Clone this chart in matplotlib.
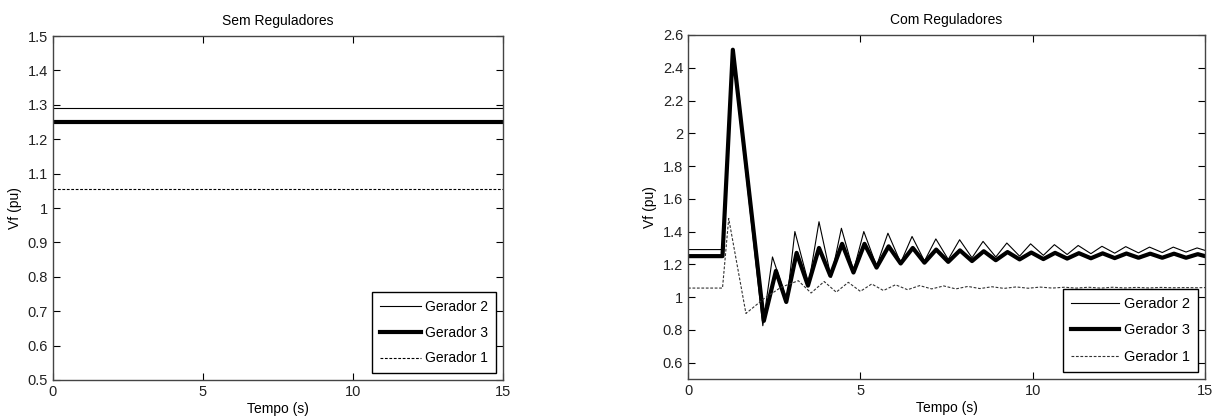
import matplotlib.pyplot as plt
import matplotlib.ticker as mticker

plt.rcParams["font.family"] = ["Liberation Sans", "DejaVu Sans"]
plt.rcParams["font.size"] = 10

# ---- Sem Reguladores (constant field voltages)
t_sem = [0, 15]
g2_sem = [1.29, 1.29]
g3_sem = [1.25, 1.25]
g1_sem = [1.055, 1.055]

# ---- Com Reguladores (peaks and troughs)
t_g3 = [0, 1.0, 1.3, 2.2, 2.55, 2.85, 3.15, 3.48, 3.8, 4.13, 4.47, 4.8, 5.12,
        5.47, 5.82, 6.17, 6.52, 6.86, 7.2, 7.55, 7.89, 8.24, 8.58, 8.93, 9.27,
        9.62, 9.96, 10.31, 10.65, 11.0, 11.34, 11.69, 12.03, 12.38, 12.72,
        13.07, 13.41, 13.76, 14.1, 14.45, 14.79, 15]
g3 = [1.25, 1.25, 2.51, 0.855, 1.16, 0.97, 1.27, 1.07, 1.30, 1.13, 1.325, 1.15,
      1.325, 1.18, 1.31, 1.205, 1.30, 1.21, 1.29, 1.215, 1.285, 1.22, 1.28,
      1.225, 1.275, 1.23, 1.272, 1.232, 1.27, 1.235, 1.268, 1.237, 1.267,
      1.238, 1.266, 1.24, 1.265, 1.24, 1.265, 1.24, 1.262, 1.25]

t_g2 = [0, 1.0, 1.3, 2.17, 2.45, 2.87, 3.1, 3.5, 3.8, 4.15, 4.45, 4.8, 5.1,
        5.47, 5.8, 6.17, 6.5, 6.86, 7.19, 7.55, 7.88, 8.24, 8.56, 8.93, 9.25,
        9.62, 9.94, 10.31, 10.63, 11.0, 11.32, 11.69, 12.01, 12.38, 12.7,
        13.07, 13.39, 13.76, 14.08, 14.45, 14.77, 15]
g2 = [1.29, 1.29, 2.48, 0.825, 1.245, 0.98, 1.40, 1.08, 1.46, 1.12, 1.42, 1.16,
      1.40, 1.19, 1.39, 1.21, 1.37, 1.22, 1.355, 1.23, 1.35, 1.24, 1.34, 1.245,
      1.33, 1.25, 1.325, 1.255, 1.32, 1.26, 1.315, 1.265, 1.31, 1.268, 1.308,
      1.27, 1.305, 1.272, 1.305, 1.275, 1.30, 1.285]

t_g1 = [0, 1.0, 1.18, 1.68, 2.2, 2.7, 3.2, 3.57, 3.95, 4.3, 4.65, 5.0, 5.33,
        5.67, 6.02, 6.37, 6.72, 7.07, 7.42, 7.77, 8.12, 8.47, 8.82, 9.17,
        9.52, 9.87, 10.22, 10.57, 10.92, 11.27, 11.62, 11.97, 12.32, 12.67,
        13.02, 13.37, 13.72, 14.07, 14.42, 14.77, 15]
g1 = [1.055, 1.055, 1.48, 0.90, 0.99, 1.06, 1.10, 1.025, 1.095, 1.03, 1.09,
      1.035, 1.08, 1.04, 1.075, 1.045, 1.07, 1.05, 1.068, 1.05, 1.065, 1.052,
      1.063, 1.053, 1.062, 1.054, 1.061, 1.055, 1.06, 1.055, 1.06, 1.055,
      1.06, 1.056, 1.059, 1.056, 1.059, 1.057, 1.058, 1.057, 1.058]

labels = ["Gerador 2", "Gerador 3", "Gerador 1"]
edge = "#444444"


def style_axes(ax, title, ylim, yticks, leg_size, handle_len):
    ax.set_xlim(0, 15)
    ax.set_ylim(*ylim)
    ax.set_xticks([0, 5, 10, 15])
    ax.set_yticks(yticks)
    ax.yaxis.set_major_formatter(mticker.FuncFormatter(lambda v, p: "%g" % round(v, 2)))
    ax.tick_params(direction="in", top=True, right=True, length=5,
                   color="black", labelcolor="#222222", labelsize=10.5)
    for s in ax.spines.values():
        s.set_color(edge)
        s.set_linewidth(1.0)
    ax.set_title(title, fontsize=10, pad=8)
    ax.set_xlabel("Tempo (s)", fontsize=10, labelpad=2)
    ax.set_ylabel("Vf (pu)", fontsize=10, labelpad=4)
    leg = ax.legend(loc="lower right", fancybox=False, framealpha=1,
                    edgecolor="black", handlelength=handle_len,
                    borderaxespad=0.5, fontsize=leg_size, borderpad=0.55,
                    labelspacing=0.85, handletextpad=0.3)
    leg.get_frame().set_linewidth(1.0)


fig = plt.figure(figsize=(12.21, 4.19), dpi=100)
ax1 = fig.add_axes([0.0434, 0.0931, 0.3686, 0.8209])
ax2 = fig.add_axes([0.5635, 0.0955, 0.4234, 0.821])

ax1.plot(t_sem, g2_sem, color="black", lw=0.8, label=labels[0])
ax1.plot(t_sem, g3_sem, color="black", lw=3.0, label=labels[1])
ax1.plot(t_sem, g1_sem, color="black", lw=0.8, ls=(0, (2.5, 1.5)), label=labels[2])
style_axes(ax1, "Sem Reguladores", (0.5, 1.5),
           [0.5 + 0.1 * i for i in range(11)], 10, 3.0)

ax2.plot(t_g2, g2, color="black", lw=0.8, label=labels[0])
ax2.plot(t_g3, g3, color="black", lw=3.0, label=labels[1])
ax2.plot(t_g1, g1, color="#333333", lw=0.8, ls=(0, (2.5, 1.5)), label=labels[2])
style_axes(ax2, "Com Reguladores", (0.5, 2.6),
           [0.6 + 0.2 * i for i in range(11)], 10.5, 3.3)

fig.savefig("out.png", dpi=100)
